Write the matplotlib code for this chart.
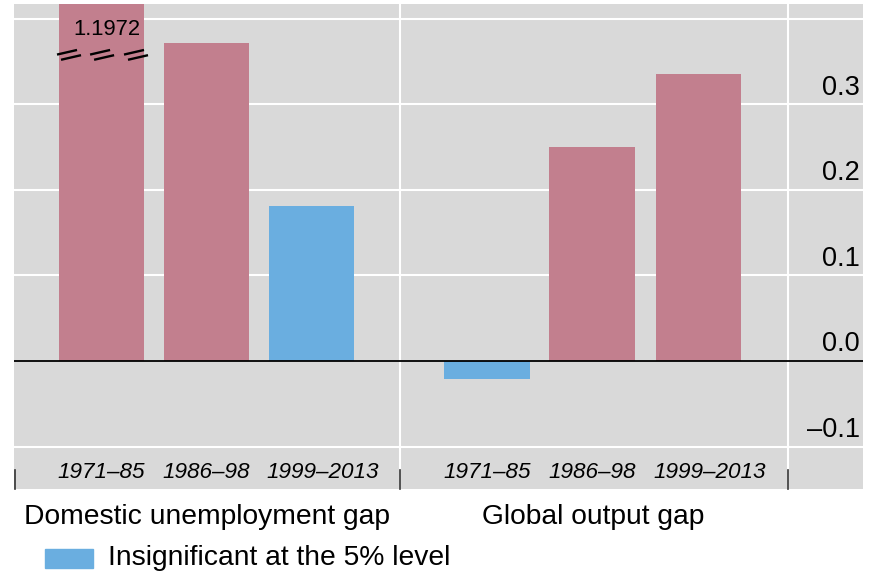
import matplotlib
matplotlib.use("Agg")
import matplotlib.pyplot as plt
import matplotlib.transforms as mtransforms
from matplotlib.patches import Rectangle

plt.rcParams['font.family'] = ['Liberation Sans', 'DejaVu Sans']

# ---- data ----
groups = ["Domestic unemployment gap", "Global output gap"]
periods = ["1971–85", "1986–98", "1999–2013"]
domestic = [1.1972, 0.372, 0.181]
global_gap = [-0.021, 0.250, 0.336]
domestic_insig = [False, False, True]
global_insig = [True, False, False]
yticks = [0.3, 0.2, 0.1, 0.0, -0.1]
ytick_labels = ["0.3", "0.2", "0.1", "0.0", "–0.1"]
legend_label = "Insignificant at the 5% level"
break_label = "1.1972"

PINK = "#C27F8E"
BLUE = "#6AAEE0"
GREY = "#D9D9D9"

fig = plt.figure(figsize=(8.77, 5.75), dpi=100)
ax = fig.add_axes([14/877, 1 - 489/575, 849/877, 485/575])
ax.set_facecolor(GREY)

# x positions (layout)
x_dom = [0.0, 1.0, 2.0]
x_glob = [3.676, 4.676, 5.686]
label_shift = [0.0, 0.0, 0.11]
sep = [2.848, 6.543]
xmin, xmax = -0.829, 7.257
ymin, ymax = -0.1497, 0.4175
ax.set_xlim(xmin, xmax)
ax.set_ylim(ymin, ymax)

# gridlines
for g in [0.4, 0.3, 0.2, 0.1, -0.1]:
    ax.axhline(g, color="white", lw=1.5, zorder=1)
for s in sep:
    ax.axvline(s, color="white", lw=1.5, zorder=1)

w = 0.81
ax.bar(x_dom, domestic, width=w, color=[BLUE if i else PINK for i in domestic_insig], zorder=2)
ax.bar(x_glob, global_gap, width=w, color=[BLUE if i else PINK for i in global_insig], zorder=2)
ax.axhline(0, color="black", lw=1.3, zorder=3)

# break marks on first bar
px = 1 / 105.0      # data units per pixel (x)
py = 0.1 / 85.5     # data units per pixel (y)
yb = 0.358
for cx in [-0.305, 0.01, 0.333]:
    for sx, sy in ((-2, 2.6), (2, -2.6)):
        ax.plot([cx + (sx - 10) * px, cx + (sx + 10) * px],
                [yb + (sy - 2.3) * py, yb + (sy + 2.3) * py],
                color="black", lw=1.7, zorder=4, solid_capstyle="butt")
ax.text(0.06, 0.388, break_label, ha="center", va="center", fontsize=15.8, zorder=5)

# y tick labels inside right
trans = mtransforms.blended_transform_factory(ax.transAxes, ax.transData)
for v, lab in zip(yticks, ytick_labels):
    ax.text(1 - 3/849, v + 0.0195, lab, transform=trans, ha="right", va="center", fontsize=19.5)

# x tick labels (italic) inside bottom area
for xs_group in (x_dom, x_glob):
    for xp, sh, lab in zip(xs_group, label_shift, periods):
        ax.text(xp + sh, -0.1305, lab, ha="center", va="center", fontsize=16.2, style="italic")

# small bottom ticks
for xs in [xmin + 0.008] + sep:
    ax.plot([xs, xs], [-0.128, -0.1497], color="#333333", lw=1.2, zorder=4, clip_on=False)

ax.set_xticks([])
ax.set_yticks([])
for sp in ax.spines.values():
    sp.set_visible(False)

# group labels
fig.text(207/877, 1 - 517/575, groups[0], ha="center", va="center", fontsize=20.3)
fig.text(593/877, 1 - 517/575, groups[1], ha="center", va="center", fontsize=20.3)

# legend
fig.patches.append(Rectangle((45/877, 1 - 568/575), 48/877, 19/575,
                             transform=fig.transFigure, color=BLUE, figure=fig))
fig.text(108/877, 1 - 558/575, legend_label, ha="left", va="center", fontsize=20.3)

fig.savefig("out.png", dpi=100)
